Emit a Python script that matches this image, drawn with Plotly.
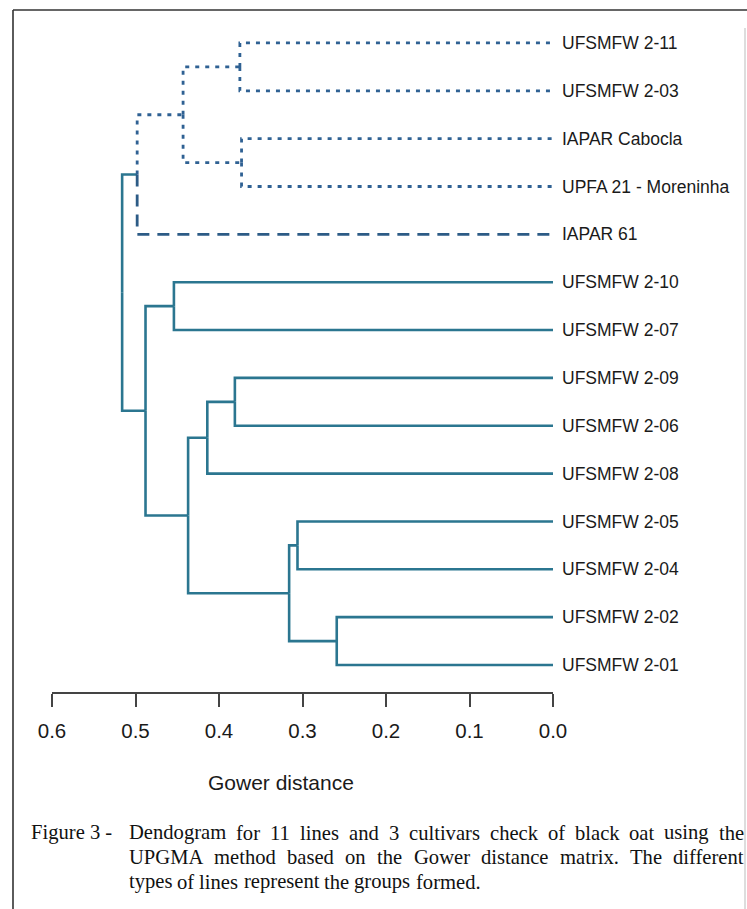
import plotly.graph_objects as go

# ---------------- data ----------------
leaf_labels = ["UFSMFW 2-11", "UFSMFW 2-03", "IAPAR Cabocla", "UPFA 21 - Moreninha",
               "IAPAR 61", "UFSMFW 2-10", "UFSMFW 2-07", "UFSMFW 2-09", "UFSMFW 2-06",
               "UFSMFW 2-08", "UFSMFW 2-05", "UFSMFW 2-04", "UFSMFW 2-02", "UFSMFW 2-01"]
leaf_groups = [1, 1, 1, 1, 2, 3, 3, 3, 3, 3, 3, 3, 3, 3]
# hclust-style merges: negative = leaf (1-based, top to bottom), positive = earlier merge
merge_left = [-1, -3, 1, 3, -6, -8, 6, -11, -13, 8, 7, 5, 4]
merge_right = [-2, -4, 2, -5, -7, -9, -10, -12, -14, 9, 10, 11, 12]
merge_height = [0.375, 0.373, 0.443, 0.498, 0.454, 0.381, 0.414, 0.306, 0.259,
                0.316, 0.437, 0.488, 0.516]
tick_values = [0.6, 0.5, 0.4, 0.3, 0.2, 0.1, 0.0]
tick_labels = ["0.6", "0.5", "0.4", "0.3", "0.2", "0.1", "0.0"]
x_title = "Gower distance"
caption_prefix = "Figure 3 -"
caption_lines = [
    "Dendogram for 11 lines and 3 cultivars check of black oat using the",
    "UPGMA method based on the Gower distance matrix. The different",
    "types of lines represent the groups formed.",
]

# ---------------- styles ----------------
SOLID = "#2b7690"
styles = {
    0: dict(color=SOLID, width=2.6, dash="solid"),
    1: dict(color="#2f6193", width=2.8, dash="4px,6px"),
    2: dict(color="#2c5b86", width=2.8, dash="12px,8px"),
    3: dict(color=SOLID, width=2.6, dash="solid"),
}

W, H = 747, 909
ML, MR, MT, MB = 52, 194, 30, 217
PW, PH = W - ML - MR, H - MT - MB

# ---------------- dendrogram geometry ----------------
n = len(leaf_labels)
leaf_y = [n - i for i in range(n)]
nodes = []


def info(ref):
    if ref < 0:
        i = -ref - 1
        return 0.0, leaf_y[i], {leaf_groups[i]}
    return nodes[ref - 1]


segs = {k: ([], []) for k in styles}
for a, b, h in zip(merge_left, merge_right, merge_height):
    ca, cb = info(a), info(b)
    y = (ca[1] + cb[1]) / 2
    g = ca[2] | cb[2]
    nodes.append((h, y, g))
    for c in (ca, cb):
        grp = next(iter(c[2])) if len(c[2]) == 1 else 0
        xs, ys = segs[grp]
        xs += [h, h, c[0], None]
        ys += [y, c[1], c[1], None]

fig = go.Figure()
for k, (xs, ys) in segs.items():
    if xs:
        fig.add_trace(go.Scatter(x=xs, y=ys, mode="lines", line=styles[k],
                                 hoverinfo="skip", showlegend=False))

# ---------------- caption layout helpers ----------------
TIMES = {
    ' ': 250, '.': 250, '-': 333, ',': 250,
    '0': 500, '1': 500, '2': 500, '3': 500, '4': 500, '5': 500, '6': 500, '7': 500, '8': 500, '9': 500,
    'a': 444, 'b': 500, 'c': 444, 'd': 500, 'e': 444, 'f': 333, 'g': 500, 'h': 500, 'i': 278,
    'j': 278, 'k': 500, 'l': 278, 'm': 778, 'n': 500, 'o': 500, 'p': 500, 'q': 500, 'r': 333,
    's': 389, 't': 278, 'u': 500, 'v': 500, 'w': 722, 'x': 500, 'y': 500, 'z': 444,
    'A': 722, 'B': 667, 'C': 667, 'D': 722, 'E': 611, 'F': 556, 'G': 722, 'H': 722, 'I': 333,
    'J': 389, 'K': 722, 'L': 611, 'M': 889, 'N': 722, 'O': 722, 'P': 556, 'Q': 722, 'R': 667,
    'S': 556, 'T': 611, 'U': 722, 'V': 722, 'W': 944, 'X': 722, 'Y': 722, 'Z': 611,
}
CAP_SIZE = 20.6


def tw(s):
    return sum(TIMES.get(c, 500) for c in s) * CAP_SIZE / 1000.0


def px_x(x):
    return (x - ML) / PW


def px_y(y):
    return (MT + PH - y) / PH


annotations = []
cap_font = dict(family="Liberation Serif, Times New Roman, serif", size=CAP_SIZE, color="#111111")


def word(text, xpx, ypx):
    annotations.append(dict(text=text, x=px_x(xpx), y=px_y(ypx), xref="paper", yref="paper",
                            xanchor="left", yanchor="middle", showarrow=False,
                            borderpad=0, borderwidth=0, font=cap_font))


X0, X1 = 128.5, 744.0
line_y = [832.5, 857.0, 881.5]
word(caption_prefix, 31.0, line_y[0])
for li, line in enumerate(caption_lines):
    words = line.split(" ")
    if li < len(caption_lines) - 1:
        gap = (X1 - X0 - sum(tw(w_) for w_ in words)) / (len(words) - 1)
    else:
        gap = tw(" ")
    x = X0
    for w_ in words:
        word(w_, x, line_y[li])
        x += tw(w_) + gap

annotations.append(dict(text=x_title, x=px_x(281), y=px_y(783), xref="paper", yref="paper",
                        xanchor="center", yanchor="middle", showarrow=False,
                        font=dict(family="Liberation Sans, Arial, sans-serif", size=21,
                                  color="#1a1a1a")))

# frame around figure
frame = [
    dict(type="line", xref="paper", yref="paper", x0=px_x(13), x1=px_x(13), y0=px_y(10), y1=px_y(912),
         line=dict(color="#333333", width=1.6)),
    dict(type="line", xref="paper", yref="paper", x0=px_x(13), x1=px_x(750), y0=px_y(10), y1=px_y(10),
         line=dict(color="#333333", width=1.6)),
    dict(type="line", xref="paper", yref="paper", x0=px_x(745), x1=px_x(745), y0=px_y(28), y1=px_y(912),
         line=dict(color="#bbbbbb", width=1)),
]

fig.update_layout(
    width=W, height=H,
    margin=dict(l=ML, r=MR, t=MT, b=MB),
    paper_bgcolor="white", plot_bgcolor="white",
    font=dict(family="Liberation Sans, Arial, sans-serif", color="#1a1a1a"),
    annotations=annotations, shapes=frame,
    xaxis=dict(range=[0.6, 0.0], tickvals=tick_values, ticktext=tick_labels,
               showgrid=False, zeroline=False, showline=True, linecolor="#444444", linewidth=1.6,
               ticks="outside", ticklen=13, tickwidth=1.6, tickcolor="#444444",
               tickfont=dict(size=20.5, color="#1a1a1a"), ticklabelstandoff=7, fixedrange=True),
    yaxis=dict(range=[1 - 27 / 47.85, 1 - 27 / 47.85 + PH / 47.85], side="right",
               tickvals=leaf_y, ticktext=leaf_labels, showgrid=False, zeroline=False,
               showline=False, ticks="", tickfont=dict(size=17.5, color="#1a1a1a"),
               ticklabelstandoff=8, fixedrange=True),
)

fig.write_html("out.html", config={"displayModeBar": False},
               post_script="document.body.style.margin='0';document.body.style.overflow='hidden';")
